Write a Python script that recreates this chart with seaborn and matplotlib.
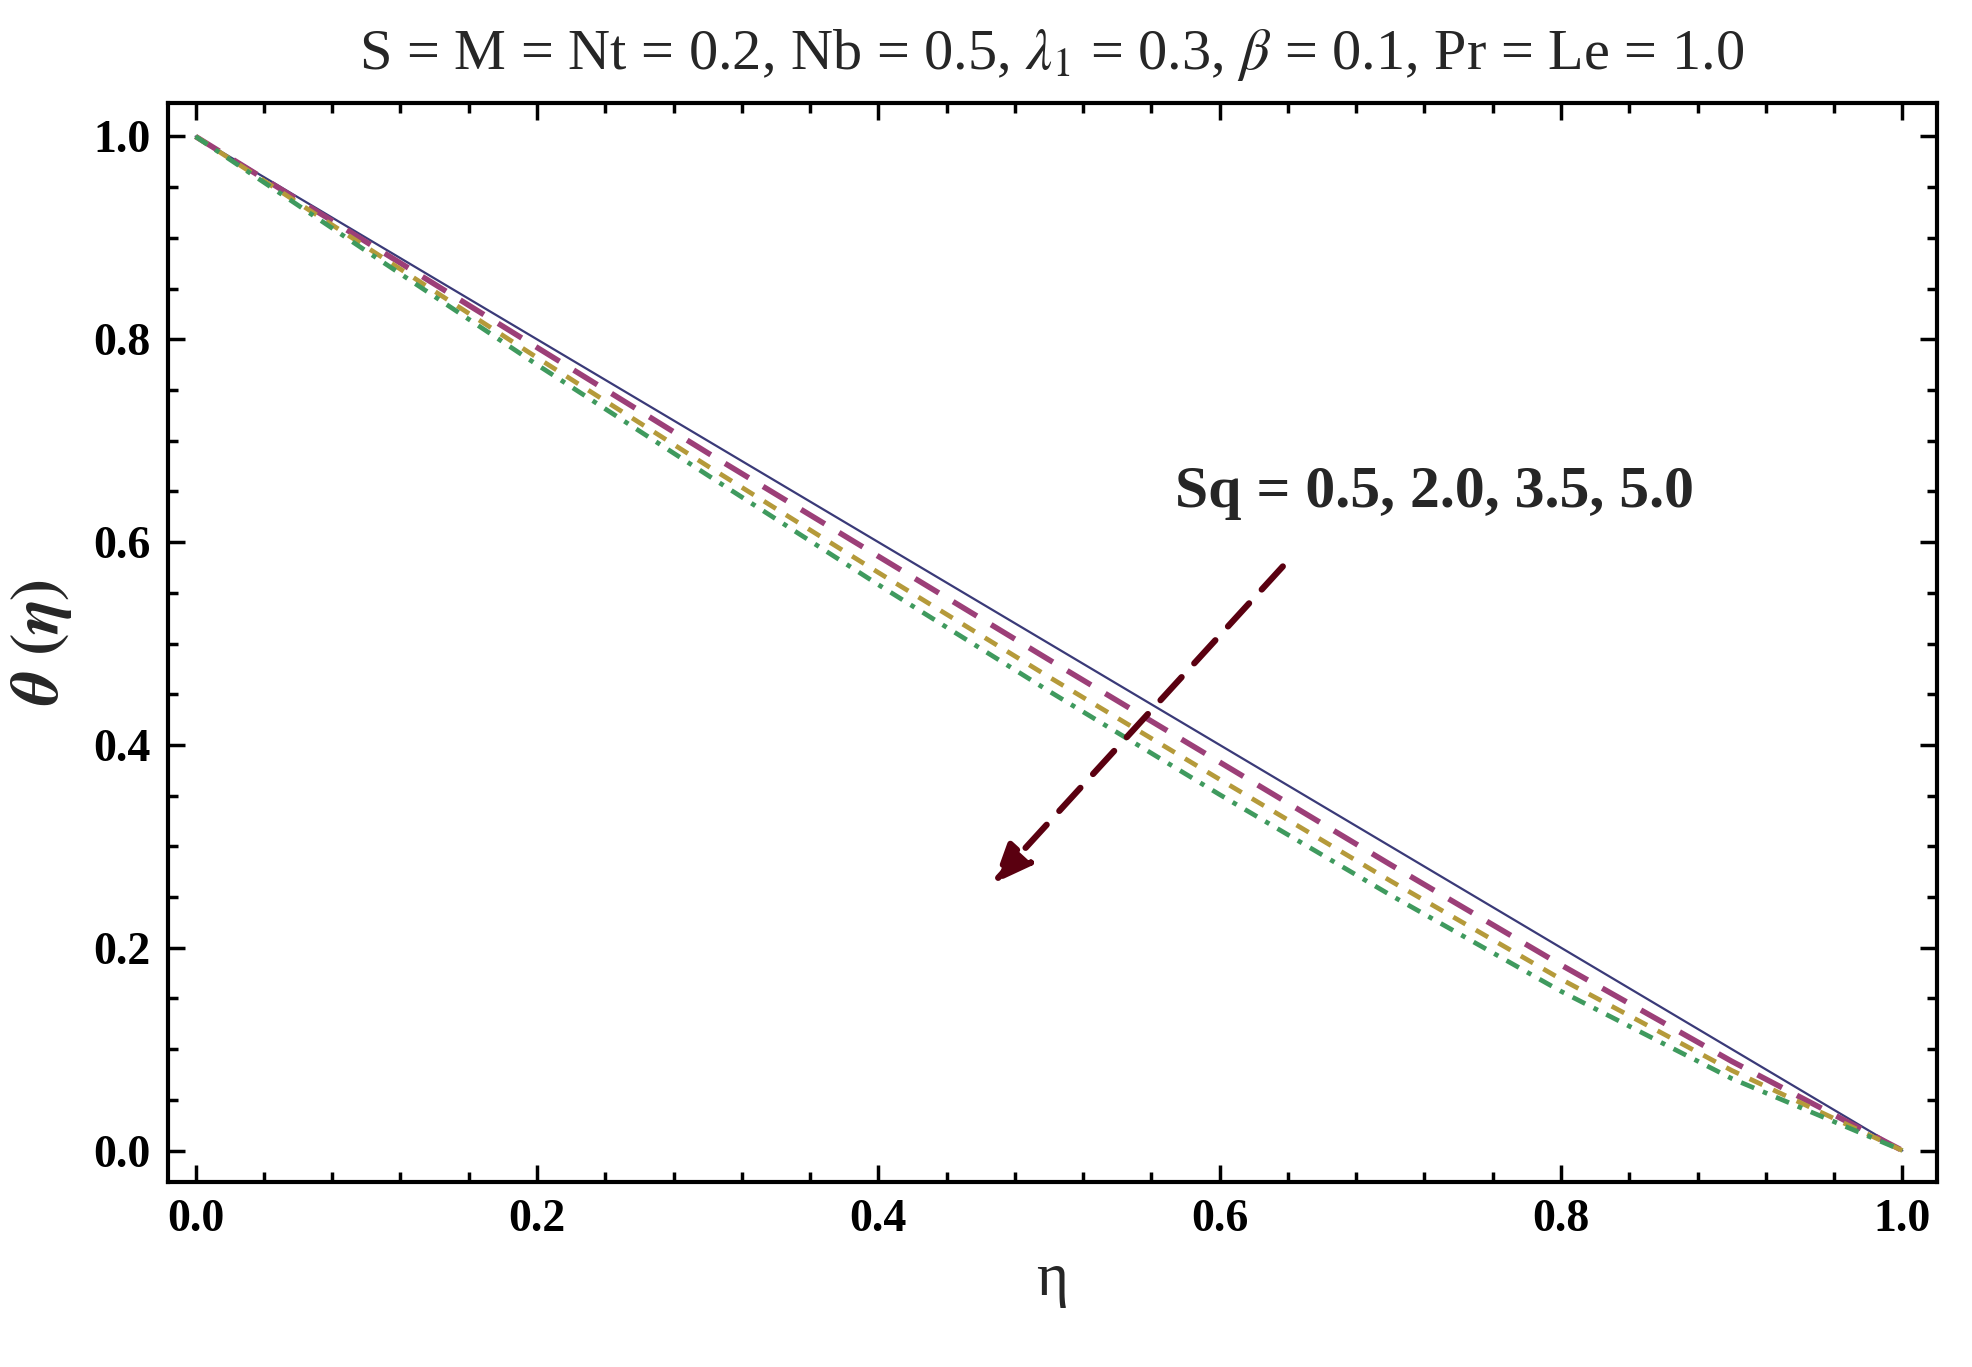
import numpy as np
import matplotlib
matplotlib.use("Agg")
import matplotlib.pyplot as plt
import seaborn as sns
import pandas as pd
from matplotlib.ticker import MultipleLocator

# Data
eta = [0.0, 0.1, 0.2, 0.3, 0.4, 0.5, 0.6, 0.7, 0.8, 0.9, 1.0]
theta_sq05 = [1.0, 0.9, 0.8, 0.7, 0.6, 0.5, 0.4, 0.3, 0.2, 0.1, 0.0]
theta_sq20 = [1.0, 0.896, 0.792, 0.688, 0.586, 0.484, 0.383, 0.282, 0.183, 0.088, 0.0]
theta_sq35 = [1.0, 0.891, 0.782, 0.675, 0.570, 0.467, 0.366, 0.266, 0.169, 0.079, 0.0]
theta_sq50 = [1.0, 0.887, 0.775, 0.666, 0.558, 0.453, 0.351, 0.252, 0.157, 0.071, 0.0]

series = {"0.5": theta_sq05, "2.0": theta_sq20, "3.5": theta_sq35, "5.0": theta_sq50}
colors = {"0.5": "#3a3a78", "2.0": "#9c3f78", "3.5": "#b59a3a", "5.0": "#3f9a5e"}
styles = {"0.5": "-", "2.0": (0, (5, 3)), "3.5": (0, (3, 2.5)), "5.0": (0, (3, 2, 1, 2))}
widths = {"0.5": 1.6, "2.0": 4.0, "3.5": 3.4, "5.0": 3.4}

df = pd.DataFrame([(e, v, k) for k, vals in series.items() for e, v in zip(eta, vals)],
                  columns=["eta", "theta", "Sq"])

sns.set_style("ticks")
plt.rcParams["font.family"] = ["Liberation Serif", "DejaVu Serif"]
plt.rcParams["mathtext.fontset"] = "stix"

fig = plt.figure(figsize=(19.72, 13.67), dpi=100)
ax = fig.add_axes([0.085, 0.135, 0.897, 0.79])

for k in series:
    sns.lineplot(data=df[df["Sq"] == k], x="eta", y="theta", ax=ax, color=colors[k],
                 linestyle=styles[k], linewidth=widths[k], legend=False)

ax.set_xlim(-0.0164, 1.020)
ax.set_ylim(-0.0315, 1.0335)
ax.xaxis.set_major_locator(MultipleLocator(0.2))
ax.xaxis.set_minor_locator(MultipleLocator(0.04))
ax.yaxis.set_major_locator(MultipleLocator(0.2))
ax.yaxis.set_minor_locator(MultipleLocator(0.05))
ax.tick_params(which="both", direction="in", top=True, right=True, width=2.5, color="black")
ax.tick_params(which="major", length=12, labelsize=33, pad=12, labelcolor="black")
ax.tick_params(which="minor", length=7)
for lbl in ax.get_xticklabels() + ax.get_yticklabels():
    lbl.set_fontweight("bold")
for sp in ax.spines.values():
    sp.set_linewidth(3)
    sp.set_color("black")

ax.set_xlabel("η", fontsize=44, labelpad=8)
ax.set_ylabel(r"$\boldsymbol{\theta}\ \boldsymbol{(\eta)}$", fontsize=48, labelpad=14)
ax.set_title(r"S = M = Nt = 0.2, Nb = 0.5, $\lambda_1$ = 0.3, $\beta$ = 0.1, Pr = Le = 1.0",
             fontsize=42, pad=24)

ax.annotate("", xy=(0.467, 0.263), xytext=(0.637, 0.576),
            arrowprops=dict(arrowstyle="-|>,head_length=2.4,head_width=1.0",
                            color="#5a0010", lw=4.5, linestyle=(0, (5, 3)),
                            shrinkA=0, shrinkB=0))
ax.text(0.574, 0.648, "Sq = 0.5, 2.0, 3.5, 5.0", fontsize=43, fontweight="bold",
        va="center", ha="left")

fig.savefig("out.png", dpi=100)
